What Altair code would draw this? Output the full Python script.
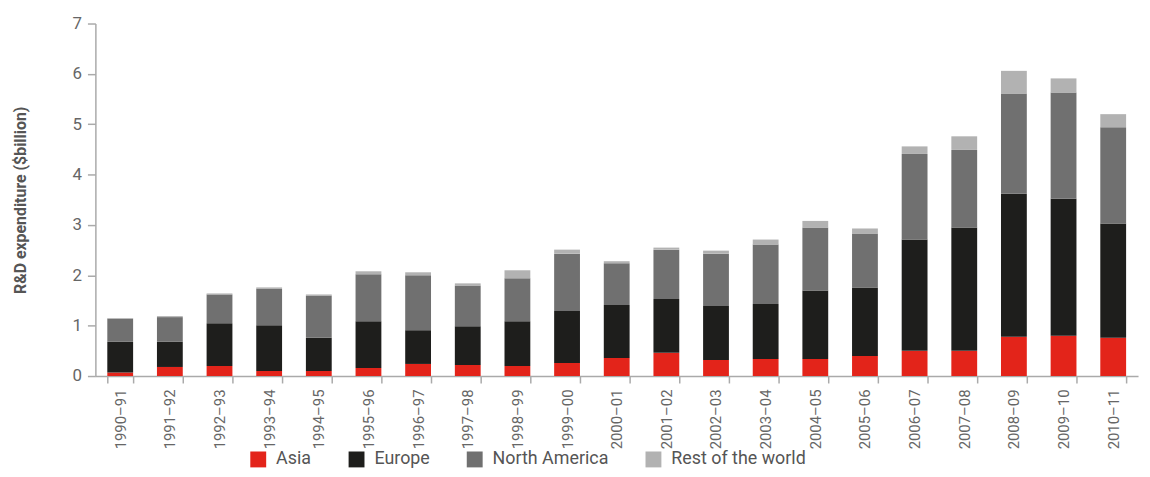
import altair as alt
import pandas as pd

periods = ["1990–91", "1991–92", "1992–93", "1993–94", "1994–95", "1995–96", "1996–97",
           "1997–98", "1998–99", "1999–00", "2000–01", "2001–02", "2002–03", "2003–04",
           "2004–05", "2005–06", "2006–07", "2007–08", "2008–09", "2009–10", "2010–11"]
regions = ["Asia", "Europe", "North America", "Rest of the world"]
colors = ["#e3241a", "#1e1e1c", "#707070", "#b2b2b2"]

asia = [0.07, 0.18, 0.20, 0.10, 0.10, 0.16, 0.24, 0.22, 0.20, 0.26, 0.36,
        0.46, 0.32, 0.34, 0.34, 0.40, 0.50, 0.50, 0.78, 0.80, 0.76]
europe = [0.61, 0.50, 0.85, 0.91, 0.66, 0.93, 0.67, 0.77, 0.89, 1.03, 1.05,
          1.07, 1.07, 1.09, 1.36, 1.36, 2.21, 2.45, 2.84, 2.72, 2.27]
north_america = [0.46, 0.49, 0.57, 0.73, 0.84, 0.93, 1.09, 0.81, 0.85, 1.14, 0.83,
                 0.98, 1.04, 1.18, 1.25, 1.07, 1.70, 1.54, 1.99, 2.11, 1.91]
rest_of_world = [0.01, 0.02, 0.02, 0.02, 0.02, 0.06, 0.06, 0.04, 0.16, 0.08, 0.04,
                 0.04, 0.06, 0.10, 0.13, 0.10, 0.15, 0.27, 0.45, 0.28, 0.26]
y_ticks = [0, 1, 2, 3, 4, 5, 6, 7]

series = [asia, europe, north_america, rest_of_world]
rows = []
for i, p in enumerate(periods):
    for j, r in enumerate(regions):
        rows.append({"period": p, "region": r, "value": series[j][i], "order": j})
df = pd.DataFrame(rows)

FONT = "Roboto"

chart = alt.Chart(df).mark_bar().encode(
    x=alt.X("period:N", sort=periods,
            scale=alt.Scale(paddingInner=0.48, paddingOuter=0.24),
            axis=alt.Axis(title=None, labelAngle=-90, labelFontSize=15, labelColor="#666666",
                          labelFont=FONT, tickColor="#aaaaaa", domainColor="#aaaaaa",
                          tickSize=7, labelPadding=6, tickBand="extent", domainWidth=1.5,
                          tickWidth=1.5)),
    y=alt.Y("value:Q", stack="zero", scale=alt.Scale(domain=[0, 7], nice=False),
            axis=alt.Axis(title="R&D expenditure ($billion)", values=y_ticks, grid=False,
                          labelFontSize=17, labelColor="#666666", labelFont=FONT,
                          tickColor="#aaaaaa", domainColor="#aaaaaa", tickSize=8,
                          labelPadding=6, domainWidth=1.5, tickWidth=1.5,
                          titleFont=FONT, titleFontSize=16, titleFontWeight="bold",
                          titleColor="#555555", titlePadding=44)),
    color=alt.Color("region:N", scale=alt.Scale(domain=regions, range=colors),
                    legend=alt.Legend(title=None, orient="none", legendX=155, legendY=430,
                                      direction="horizontal", symbolType="square",
                                      symbolSize=256, symbolStrokeWidth=0,
                                      labelFontSize=18, labelColor="#555555", labelFont=FONT,
                                      columnPadding=36, labelOffset=9)),
    order=alt.Order("order:Q"),
).properties(
    width=1050, height=355,
    autosize=alt.AutoSizeParams(type="none"),
    padding={"left": 88, "top": 14, "right": 4, "bottom": 92},
).configure_view(stroke=None)

chart.save("out.html", embed_options={"renderer": "svg", "actions": False})
